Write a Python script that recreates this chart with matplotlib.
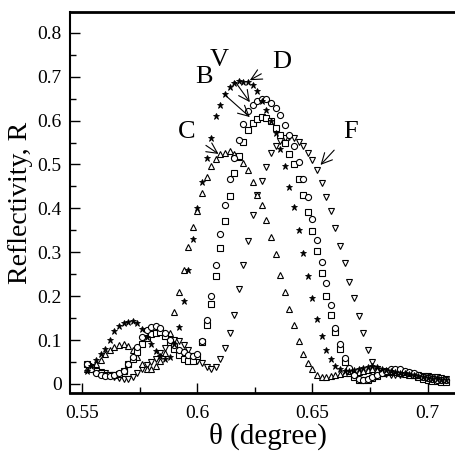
import numpy as np
import matplotlib
matplotlib.use("Agg")
import matplotlib.pyplot as plt
from matplotlib.ticker import MultipleLocator

plt.rcParams['font.family'] = ['Liberation Serif', 'DejaVu Serif']

# angle grid (degree), step 0.002
theta = np.round(np.arange(0.552, 0.7081, 0.002), 3)

# D : filled stars
R_D = [0.030, 0.040, 0.055, 0.068, 0.080, 0.100, 0.120, 0.133, 0.139, 0.142,
       0.143, 0.139, 0.125, 0.108, 0.090, 0.075, 0.063, 0.057, 0.062, 0.090,
       0.130, 0.190, 0.260, 0.330, 0.400, 0.460, 0.515, 0.560, 0.610, 0.635,
       0.660, 0.677, 0.686, 0.690, 0.689, 0.687, 0.680, 0.668, 0.645, 0.625,
       0.600, 0.572, 0.535, 0.497, 0.449, 0.403, 0.350, 0.299, 0.246, 0.197,
       0.149, 0.109, 0.077, 0.056, 0.040, 0.033, 0.030, 0.030, 0.032, 0.034,
       0.037, 0.039, 0.040, 0.038, 0.035, 0.032, 0.030, 0.028, 0.026, 0.024,
       0.022, 0.020, 0.018, 0.016, 0.014, 0.012, 0.011, 0.010, 0.009]

# V : open circles
R_V = [0.045, 0.035, 0.026, 0.020, 0.018, 0.018, 0.020, 0.024, 0.030, 0.045,
       0.062, 0.085, 0.108, 0.122, 0.130, 0.133, 0.128, 0.117, 0.100, 0.088,
       0.078, 0.072, 0.066, 0.064, 0.068, 0.098, 0.146, 0.200, 0.270, 0.342,
       0.408, 0.466, 0.515, 0.556, 0.593, 0.622, 0.636, 0.645, 0.649, 0.649,
       0.640, 0.628, 0.612, 0.590, 0.568, 0.542, 0.506, 0.466, 0.427, 0.375,
       0.327, 0.279, 0.229, 0.180, 0.128, 0.090, 0.060, 0.037, 0.020, 0.011,
       0.010, 0.012, 0.016, 0.021, 0.026, 0.030, 0.033, 0.034, 0.033, 0.030,
       0.027, 0.024, 0.020, 0.017, 0.014, 0.012, 0.010, 0.009, 0.009]

# B : open squares
R_B = [0.045, 0.038, 0.030, 0.024, 0.021, 0.020, 0.020, 0.022, 0.030, 0.045,
       0.058, 0.072, 0.090, 0.105, 0.113, 0.117, 0.118, 0.110, 0.095, 0.080,
       0.066, 0.058, 0.052, 0.052, 0.063, 0.095, 0.135, 0.182, 0.246, 0.310,
       0.372, 0.428, 0.481, 0.520, 0.551, 0.579, 0.595, 0.603, 0.609, 0.607,
       0.598, 0.582, 0.568, 0.548, 0.525, 0.501, 0.467, 0.430, 0.391, 0.349,
       0.304, 0.252, 0.201, 0.158, 0.118, 0.080, 0.050, 0.030, 0.016, 0.010,
       0.008, 0.010, 0.014, 0.019, 0.024, 0.028, 0.030, 0.031, 0.030, 0.027,
       0.024, 0.020, 0.016, 0.012, 0.009, 0.007, 0.006, 0.005, 0.005]

# C : open up-triangles
R_C = [0.035, 0.040, 0.045, 0.055, 0.068, 0.078, 0.085, 0.089, 0.090, 0.087,
       0.078, 0.062, 0.045, 0.035, 0.033, 0.040, 0.052, 0.070, 0.115, 0.163,
       0.210, 0.260, 0.311, 0.358, 0.395, 0.436, 0.471, 0.497, 0.513, 0.524,
       0.527, 0.530, 0.524, 0.518, 0.504, 0.487, 0.461, 0.430, 0.408, 0.374,
       0.334, 0.296, 0.249, 0.209, 0.171, 0.135, 0.097, 0.068, 0.048, 0.033,
       0.021, 0.017, 0.017, 0.019, 0.021, 0.022, 0.024, 0.025, 0.026, 0.028,
       0.030, 0.032, 0.033, 0.032, 0.030, 0.029, 0.028, 0.027, 0.025, 0.023,
       0.021, 0.020, 0.020, 0.019, 0.018, 0.016, 0.014, 0.012, 0.010]

# F : open down-triangles
R_F = [0.040, 0.035, 0.030, 0.027, 0.024, 0.020, 0.016, 0.013, 0.012, 0.012,
       0.016, 0.025, 0.035, 0.043, 0.050, 0.058, 0.070, 0.083, 0.095, 0.100,
       0.098, 0.089, 0.077, 0.063, 0.053, 0.047, 0.038, 0.033, 0.039, 0.058,
       0.083, 0.117, 0.157, 0.216, 0.270, 0.325, 0.385, 0.430, 0.462, 0.495,
       0.527, 0.541, 0.553, 0.560, 0.563, 0.560, 0.552, 0.541, 0.527, 0.510,
       0.487, 0.457, 0.425, 0.395, 0.355, 0.315, 0.275, 0.233, 0.195, 0.155,
       0.115, 0.078, 0.050, 0.035, 0.026, 0.022, 0.020, 0.020, 0.021, 0.022,
       0.022, 0.021, 0.020, 0.019, 0.018, 0.017, 0.016, 0.014, 0.012]

fig = plt.figure(figsize=(4.56, 4.54), dpi=100)
ax = fig.add_axes([0.1535, 0.1344, 0.866, 0.8392])

mk = dict(linestyle='none', markersize=4.4, markeredgewidth=0.8,
          markeredgecolor='black')
ax.plot(theta, R_F, marker='v', markerfacecolor='white', **mk)
ax.plot(theta, R_C, marker='^', markerfacecolor='white', **mk)
ax.plot(theta, R_B, marker='s', markerfacecolor='white', markersize=3.8,
        linestyle='none', markeredgewidth=0.8, markeredgecolor='black')
ax.plot(theta, R_V, marker='o', markerfacecolor='white', **mk)
ax.plot(theta, R_D, marker='*', markerfacecolor='black', linestyle='none',
        markersize=4.6, markeredgewidth=0.6, markeredgecolor='black')

ax.set_xlim(0.5447, 0.7162)
ax.set_ylim(-0.0205, 0.8474)
ax.xaxis.set_minor_locator(MultipleLocator(0.025))
ax.yaxis.set_minor_locator(MultipleLocator(0.05))
ax.set_xticks([0.55, 0.6, 0.65, 0.7])
ax.set_xticklabels(['0.55', '0.6', '0.65', '0.7'])
ax.set_yticks(np.arange(0, 0.81, 0.1))
ax.set_yticklabels(['0', '0.1', '0.2', '0.3', '0.4', '0.5', '0.6', '0.7', '0.8'])

ax.tick_params(which='both', direction='in', top=False, right=False,
               labelsize=14, width=1)
ax.tick_params(which='major', length=7)
ax.tick_params(which='minor', length=4)
ax.tick_params(axis='x', which='major', pad=9)
ax.tick_params(axis='y', which='major', pad=6)
for s in ['top', 'bottom']:
    ax.spines[s].set_linewidth(2)
ax.spines['left'].set_linewidth(1.5)
ax.spines['right'].set_visible(False)

ax.set_xlabel('θ (degree)', fontsize=21, labelpad=0)
ax.set_ylabel('Reflectivity, R', fontsize=20, labelpad=3)

arr = dict(arrowstyle='->', lw=0.8, color='black', shrinkA=7, shrinkB=0)
fs = 19
ax.annotate('D', xy=(0.6228, 0.692), xytext=(0.6368, 0.733), fontsize=fs,
            ha='center', va='center', arrowprops=arr)
ax.annotate('V', xy=(0.6228, 0.642), xytext=(0.6097, 0.738), fontsize=fs,
            ha='center', va='center', arrowprops=arr)
ax.annotate('B', xy=(0.6228, 0.608), xytext=(0.6031, 0.700), fontsize=fs,
            ha='center', va='center', arrowprops=arr)
ax.annotate('C', xy=(0.6092, 0.524), xytext=(0.5952, 0.574), fontsize=fs,
            ha='center', va='center', arrowprops=arr)
ax.annotate('F', xy=(0.6535, 0.499), xytext=(0.6667, 0.574), fontsize=fs,
            ha='center', va='center', arrowprops=arr)

fig.savefig('out.png', dpi=100)
